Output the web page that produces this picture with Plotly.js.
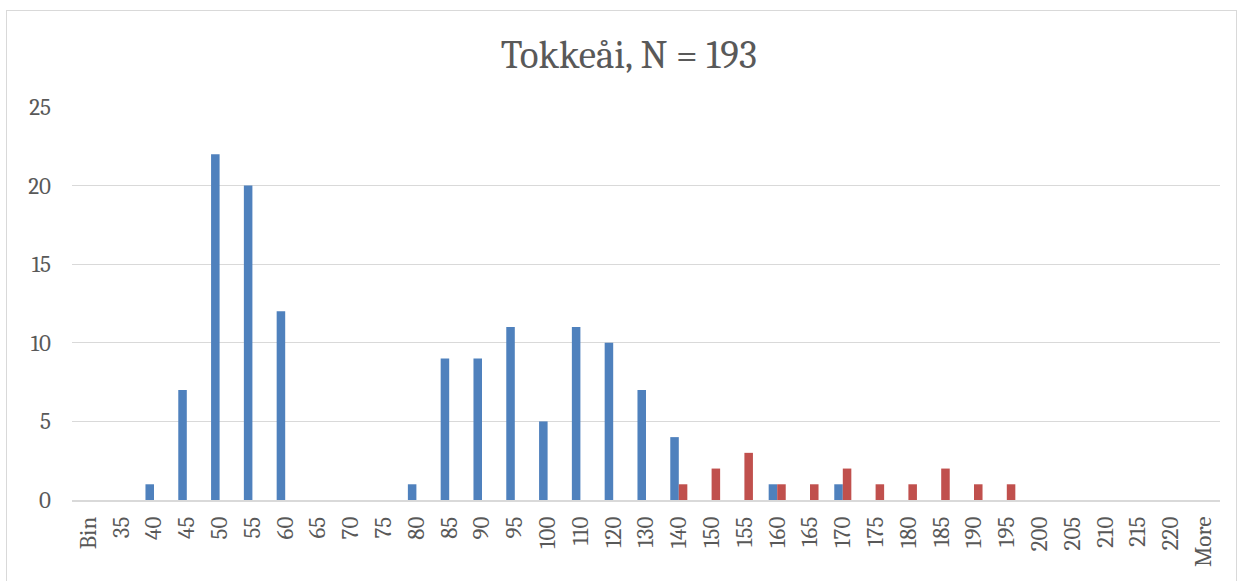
<!DOCTYPE html>
<html><head><meta charset="utf-8">
<script src="https://cdn.plot.ly/plotly-3.0.1.min.js"></script>
<style>
body{margin:0;background:#fff;}
#frame{position:absolute;left:6px;top:10px;width:1229px;height:570px;border:1px solid #d9d9d9;}
#chart{width:1229px;height:570px;}
</style></head>
<body><div id="frame"><div id="chart"></div></div>
<script>
const categories = ["Bin","35","40","45","50","55","60","65","70","75","80","85","90","95","100","110","120","130","140","150","155","160","165","170","175","180","185","190","195","200","205","210","215","220","More"];
const blueValues = [0,0,1,7,22,20,12,0,0,0,1,9,9,11,5,11,10,7,4,0,0,1,0,1,0,0,0,0,0,0,0,0,0,0,0];
const redValues  = [0,0,0,0,0,0,0,0,0,0,0,0,0,0,0,0,0,0,1,2,3,1,1,2,1,1,2,1,1,0,0,0,0,0,0];
const titleText = "Tokkeåi, N = 193";
const font = "Cambria, 'Liberation Serif', 'DejaVu Serif', serif";
const traces = [
 {type:"bar", x:categories, y:blueValues, marker:{color:"#4f81bd"}, name:"A"},
 {type:"bar", x:categories, y:redValues, marker:{color:"#c0504d"}, name:"B"}
];
const layout = {
 width:1229, height:570,
 margin:{l:65,r:16,t:96,b:81},
 barmode:"group", bargap:0.48, bargroupgap:0,
 showlegend:false,
 paper_bgcolor:"#fff", plot_bgcolor:"#fff",
 font:{family:font,color:"#595959"},
 title:{text:titleText, x:0.506, xanchor:"center", y:0.924, yanchor:"middle", font:{family:font,size:39,color:"#595959"}},
 xaxis:{type:"category", tickangle:-90, tickfont:{size:23,color:"#595959"}, showline:true, linecolor:"#d9d9d9", linewidth:1.5, ticks:"", ticklabelstandoff:6, showgrid:false, automargin:false},
 yaxis:{range:[0,25], dtick:5, tickfont:{size:23,color:"#595959"}, gridcolor:"#d9d9d9", gridwidth:1, zeroline:false, showline:false, ticks:"", ticklen:0, ticklabelstandoff:20, automargin:false}
};
Plotly.newPlot("chart", traces, layout, {displayModeBar:false, staticPlot:true});
</script></body></html>
